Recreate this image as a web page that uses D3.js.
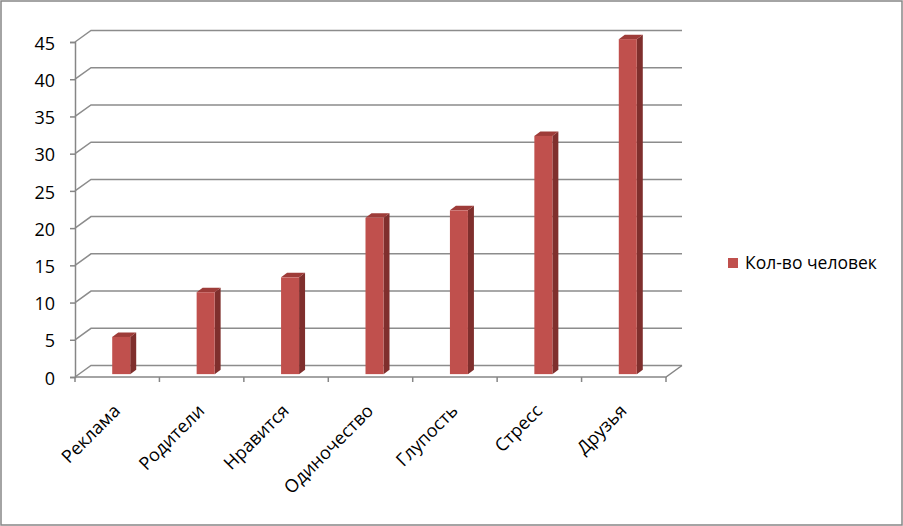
<!DOCTYPE html>
<html>
<head>
<meta charset="utf-8">
<script src="https://cdn.jsdelivr.net/npm/d3@7"></script>
<style>
  body { margin: 0; background: #fff; }
  text { font-family: "Open Sans", sans-serif; fill: #000; }
</style>
</head>
<body>
<div id="chart"></div>
<script>
const categories = ["Реклама", "Родители", "Нравится", "Одиночество", "Глупость", "Стресс", "Друзья"];
const values = [5, 11, 13, 21, 22, 32, 45];
const yTicks = [0, 5, 10, 15, 20, 25, 30, 35, 40, 45];
const seriesName = "Кол-во человек";

const chartWidth = 903, chartHeight = 526;
const plotLeft = 75, plotRight = 666, plotBottom = 377, plotTop = 42;
const depthX = 16, depthY = -11.5;

const svg = d3.select("#chart").append("svg")
    .attr("width", chartWidth)
    .attr("height", chartHeight);

// outer frame
svg.append("rect")
    .attr("x", 1).attr("y", 1)
    .attr("width", chartWidth - 2).attr("height", chartHeight - 2)
    .attr("fill", "#fff")
    .attr("stroke", "#868686")
    .attr("stroke-width", 1.5);

const x = d3.scaleBand()
    .domain(categories)
    .range([plotLeft, plotRight]);

const y = d3.scaleLinear()
    .domain([0, 45])
    .range([plotBottom, plotTop]);

// gridlines on the back wall, with the slanted piece on the side
const grid = svg.append("g").attr("class", "grid");
yTicks.forEach(t => {
    grid.append("path")
        .attr("d", `M${plotLeft},${y(t)} L${plotLeft + depthX},${y(t) + depthY} L${plotRight + depthX},${y(t) + depthY}`)
        .attr("fill", "none")
        .attr("stroke", "#8c8c8c")
        .attr("stroke-width", 1.5);
});

// floor front edge and right slant
grid.append("path")
    .attr("d", `M${plotLeft},${y(0)} L${plotRight},${y(0)} L${plotRight + depthX},${y(0) + depthY}`)
    .attr("fill", "none")
    .attr("stroke", "#868686")
    .attr("stroke-width", 1.5);

// y axis
svg.append("g")
    .attr("class", "yAxis")
    .attr("transform", `translate(${plotLeft},0)`)
    .call(d3.axisLeft(y).tickValues(yTicks).tickSize(5).tickPadding(15))
    .call(g => g.select(".domain").attr("stroke", "#868686").attr("stroke-width", 1.5))
    .call(g => g.selectAll(".tick line").attr("stroke", "#868686").attr("stroke-width", 1.5))
    .call(g => g.selectAll("text").style("font-size", "18px").attr("dy", "0.4em").attr("fill", "#000"));

// x axis ticks at the category boundaries
const bounds = categories.map(c => x(c)).concat([plotRight]);
svg.append("g")
    .selectAll("line")
    .data(bounds)
    .enter().append("line")
    .attr("x1", d => d).attr("x2", d => d)
    .attr("y1", y(0)).attr("y2", y(0) + 5)
    .attr("stroke", "#868686")
    .attr("stroke-width", 1.5);

// category labels, rotated
svg.append("g")
    .selectAll("text")
    .data(categories)
    .enter().append("text")
    .attr("transform", d => `translate(${x(d) + x.bandwidth() / 2 + 4},${y(0) + 35}) rotate(-45)`)
    .style("text-anchor", "end")
    .style("font-size", "18px")
    .text(d => d);

// 3d bars
const barW = 18;
const barD = 0.25;      // where the front face sits in the depth
const sideDx = 6, sideDy = -4.5;
const bars = svg.append("g").attr("class", "bars");
categories.forEach((c, i) => {
    const x0 = x(c) + x.bandwidth() / 2 - barW / 2 + depthX * barD;
    const yb = y(0) + depthY * barD;
    const yt = y(values[i]) + depthY * barD;
    // right side
    bars.append("path")
        .attr("d", `M${x0 + barW},${yt} L${x0 + barW + sideDx},${yt + sideDy} L${x0 + barW + sideDx},${yb + sideDy} L${x0 + barW},${yb} Z`)
        .attr("fill", "#7f2f2d");
    // top
    bars.append("path")
        .attr("d", `M${x0},${yt} L${x0 + sideDx},${yt + sideDy} L${x0 + barW + sideDx},${yt + sideDy} L${x0 + barW},${yt} Z`)
        .attr("fill", "#9e3c39");
    // front
    bars.append("rect")
        .attr("x", x0)
        .attr("y", yt)
        .attr("width", barW)
        .attr("height", yb - yt)
        .attr("fill", "#c0504d");
});

// legend
const legend = svg.append("g").attr("transform", "translate(728,258)");
legend.append("rect")
    .attr("width", 10).attr("height", 10)
    .attr("fill", "#c0504d");
legend.append("text")
    .attr("x", 17).attr("y", 11)
    .style("font-size", "17.5px")
    .text(seriesName);
</script>
</body>
</html>
